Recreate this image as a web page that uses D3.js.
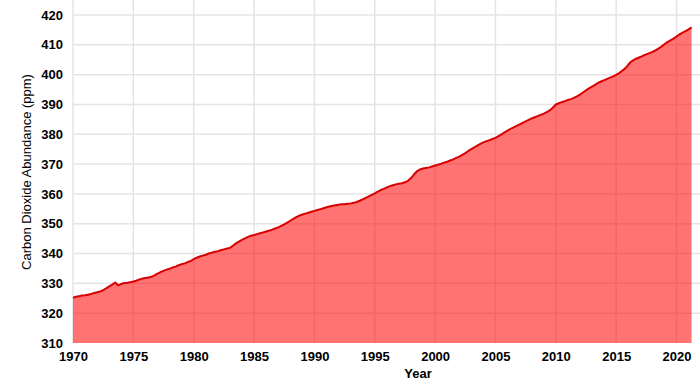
<!DOCTYPE html>
<html>
<head>
<meta charset="utf-8">
<script src="https://cdn.jsdelivr.net/npm/d3@7"></script>
<style>
  html, body { margin: 0; padding: 0; background: #fff; }
  svg text { font-family: "Liberation Sans", Arial, Helvetica, sans-serif; fill: #000; }
</style>
</head>
<body>
<div id="chart"></div>
<script>
// quarterly CO2 readings (ppm), starting 1970.0, one value every quarter year
const startYear = 1970;
const stepYears = 0.25;
const co2Values = [
  325.2, 325.5, 325.7, 325.9,
  326.0, 326.2, 326.4, 326.8,
  327.0, 327.3, 327.7, 328.3,
  329.0, 329.6, 330.3, 329.3,
  329.8, 330.1, 330.2, 330.4,
  330.6, 330.9, 331.3, 331.6,
  331.8, 332.0, 332.2, 332.7,
  333.3, 333.8, 334.2, 334.6,
  334.9, 335.3, 335.6, 336.1,
  336.4, 336.7, 337.1, 337.5,
  338.1, 338.6, 339.0, 339.3,
  339.6, 340.0, 340.3, 340.6,
  340.8, 341.1, 341.4, 341.7,
  341.9, 342.6, 343.4, 344.0,
  344.6, 345.1, 345.6, 346.0,
  346.2, 346.5, 346.8, 347.1,
  347.4, 347.7, 348.0, 348.4,
  348.8, 349.3, 349.8, 350.4,
  351.0, 351.6, 352.2, 352.7,
  353.1, 353.4, 353.7, 354.0,
  354.3, 354.6, 354.9, 355.2,
  355.5, 355.8, 356.0, 356.2,
  356.4, 356.5, 356.5, 356.7,
  356.8, 357.0, 357.3, 357.7,
  358.2, 358.7, 359.2, 359.7,
  360.2, 360.8, 361.3, 361.7,
  362.2, 362.6, 362.9, 363.2,
  363.4, 363.6, 363.9, 364.4,
  365.3, 366.5, 367.6, 368.2,
  368.5, 368.7, 368.9, 369.2,
  369.5, 369.8, 370.1, 370.5,
  370.8, 371.2, 371.6, 372.1,
  372.5, 373.1, 373.7, 374.4,
  375.0, 375.6, 376.2, 376.8,
  377.3, 377.7, 378.0, 378.4,
  378.8, 379.4, 380.0, 380.6,
  381.2, 381.8, 382.3, 382.8,
  383.3, 383.8, 384.3, 384.8,
  385.3, 385.7, 386.1, 386.5,
  386.9, 387.4, 388.0, 388.9,
  390.0, 390.4, 390.8, 391.1,
  391.5, 391.8, 392.2, 392.7,
  393.3, 394.0, 394.7, 395.4,
  396.0, 396.6, 397.2, 397.7,
  398.1, 398.6, 399.0, 399.4,
  399.9, 400.5, 401.3, 402.1,
  403.3, 404.4, 405.0, 405.5,
  405.9, 406.4, 406.8, 407.2,
  407.6, 408.1, 408.7, 409.4,
  410.2, 410.9, 411.5, 412.1,
  412.8, 413.5, 414.1, 414.6,
  415.2, 415.9
];
const xTicks = [1970, 1975, 1980, 1985, 1990, 1995, 2000, 2005, 2010, 2015, 2020];
const yTicks = [310, 320, 330, 340, 350, 360, 370, 380, 390, 400, 410, 420];

const data = co2Values.map((v, i) => ({ year: startYear + i * stepYears, value: v }));

const width = 700, height = 386;
const plot = { left: 73, right: 700, top: 0, bottom: 343 };

const svg = d3.select("#chart")
  .append("svg")
  .attr("width", width)
  .attr("height", height);

const x = d3.scaleLinear()
  .domain([1970, 2020])
  .range([73, 676.5]);

const y = d3.scaleLinear()
  .domain([310, 420])
  .range([343, 15]);

// grid
svg.append("g")
  .selectAll("line")
  .data(xTicks)
  .join("line")
  .attr("x1", d => x(d)).attr("x2", d => x(d))
  .attr("y1", plot.top).attr("y2", plot.bottom)
  .attr("stroke", "#e4e4e4")
  .attr("stroke-width", 1.5);

svg.append("g")
  .selectAll("line")
  .data(yTicks.slice(1))
  .join("line")
  .attr("x1", plot.left).attr("x2", plot.right)
  .attr("y1", d => y(d)).attr("y2", d => y(d))
  .attr("stroke", "#e4e4e4")
  .attr("stroke-width", 1.5);

// area + line
const area = d3.area()
  .x(d => x(d.year))
  .y0(y(310))
  .y1(d => y(d.value));

const line = d3.line()
  .x(d => x(d.year))
  .y(d => y(d.value));

svg.append("path")
  .datum(data)
  .attr("d", area)
  .attr("fill", "rgba(255,0,0,0.55)");

svg.append("path")
  .datum(data)
  .attr("d", line)
  .attr("fill", "none")
  .attr("stroke", "#d80000")
  .attr("stroke-width", 2)
  .attr("stroke-linejoin", "round");

// y-axis (labels only)
const yAxis = svg.append("g")
  .attr("transform", `translate(${plot.left},0)`)
  .call(d3.axisLeft(y).tickValues(yTicks).tickSize(0).tickPadding(10).tickFormat(d3.format("d")));
yAxis.select(".domain").remove();
yAxis.selectAll("text")
  .attr("font-size", 13)
  .attr("font-weight", "bold")
  .style("font-family", "'Liberation Sans', Arial, sans-serif")
  .attr("fill", "#111");

// x-axis (labels only)
const xAxis = svg.append("g")
  .attr("transform", `translate(0,${plot.bottom})`)
  .call(d3.axisBottom(x).tickValues(xTicks).tickSize(0).tickPadding(9).tickFormat(d3.format("d")));
xAxis.select(".domain").remove();
xAxis.selectAll("text")
  .attr("font-size", 13)
  .attr("font-weight", "bold")
  .style("font-family", "'Liberation Sans', Arial, sans-serif")
  .attr("fill", "#111");

// axis titles
svg.append("text")
  .attr("x", 418)
  .attr("y", 378)
  .attr("text-anchor", "middle")
  .attr("font-size", 13)
  .attr("font-weight", "bold")
  .attr("fill", "#111")
  .text("Year");

svg.append("text")
  .attr("transform", "translate(31,172) rotate(-90)")
  .attr("text-anchor", "middle")
  .attr("font-size", 13)
  .attr("fill", "#111")
  .text("Carbon Dioxide Abundance (ppm)");
</script>
</body>
</html>
